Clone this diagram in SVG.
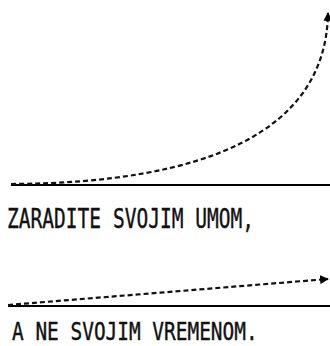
<svg xmlns="http://www.w3.org/2000/svg" width="330" height="346" viewBox="0 0 330 346">
<style>
.base{stroke:#000;stroke-width:2;fill:none}
.dash{stroke:#111;stroke-width:2.2;fill:none;stroke-dasharray:5,3}
.lbl{font-family:"DejaVu Sans Mono","Liberation Mono",monospace;fill:#111;stroke:#111;stroke-width:0.4}
</style>
<defs>
<marker id="ah" viewBox="0 0 10 10" refX="9" refY="5" markerWidth="4" markerHeight="4" orient="auto" markerUnits="strokeWidth">
<path d="M0,0 L10,5 L0,10 z" fill="#000"/>
</marker>
</defs>
<g id="connectors">
<line class="base" x1="11" y1="185" x2="330" y2="185"/>
<line class="base" x1="8" y1="306" x2="330" y2="306"/>
<path class="dash" d="M11,184 C210,183 326,130 328,13" marker-end="url(#ah)"/>
<path class="dash" d="M8,305 L328,279" marker-end="url(#ah)"/>
</g>
<g id="label1" transform="translate(7,227.5) scale(0.724,1)"><text class="lbl" x="0" y="0" font-size="27">ZARADITE SVOJIM UMOM,</text></g>
<g id="label2" transform="translate(12,340) scale(0.81,1)"><text class="lbl" x="0" y="0" font-size="24">A NE SVOJIM VREMENOM.</text></g>
</svg>
